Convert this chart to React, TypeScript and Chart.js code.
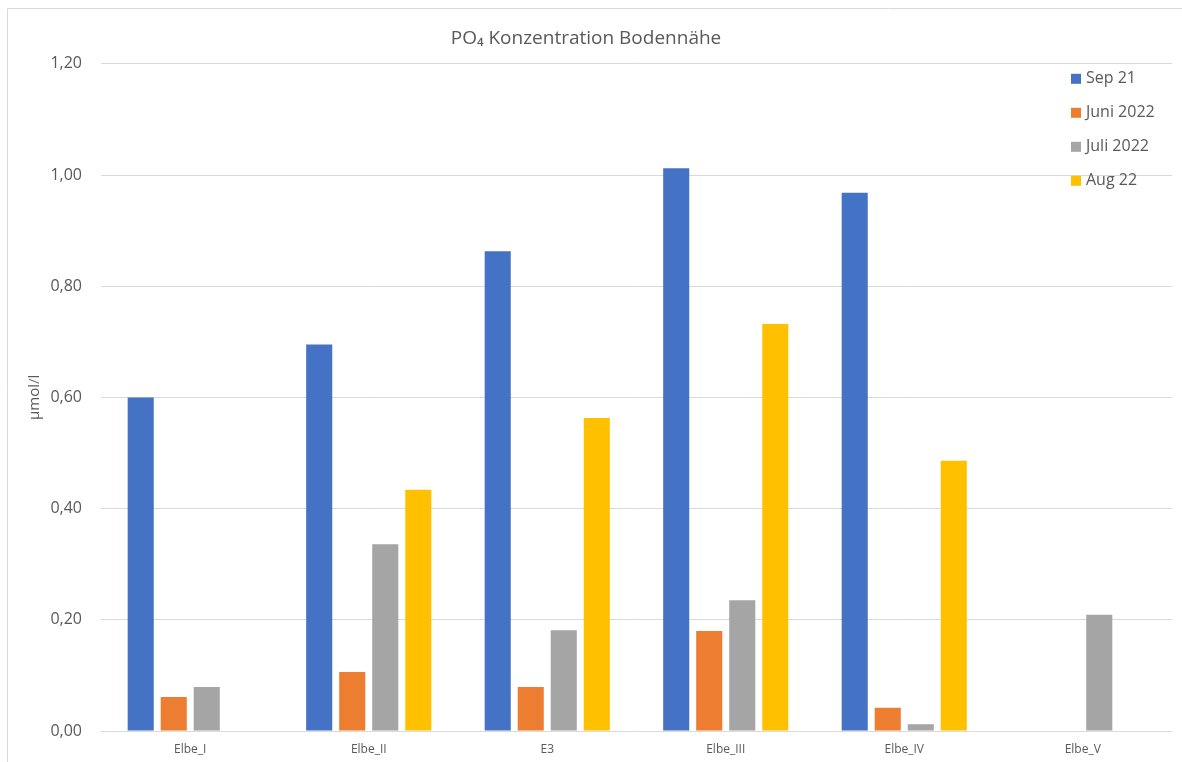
import { useEffect, useRef } from "react";
import { Chart, registerables } from "chart.js";

Chart.register(...registerables);

const categories = ["Elbe_I", "Elbe_II", "E3", "Elbe_III", "Elbe_IV", "Elbe_V"];
const seriesLabels = ["Sep 21", "Juni 2022", "Juli 2022", "Aug 22"];
const sep21 = [0.6, 0.695, 0.863, 1.012, 0.968, null];
const juni2022 = [0.061, 0.106, 0.079, 0.18, 0.042, null];
const juli2022 = [0.079, 0.336, 0.181, 0.235, 0.012, 0.209];
const aug22 = [null, 0.434, 0.563, 0.732, 0.486, null];
const seriesColors = ["#4472C4", "#ED7D31", "#A5A5A5", "#FFC000"];
const yMin = 0;
const yMax = 1.2;
const yStep = 0.2;
const titleText = "PO₄ Konzentration Bodennähe";
const yTitle = "µmol/l";

const FONT = "'Open Sans', 'DejaVu Sans', sans-serif";
const TEXT = "#595959";
const GRID = "#D9D9D9";

const framePlugin = {
  id: "frame",
  beforeDraw(chart: any) {
    const { ctx, width, height } = chart;
    ctx.save();
    ctx.fillStyle = "#ffffff";
    ctx.fillRect(0, 0, width, height);
    ctx.strokeStyle = GRID;
    ctx.lineWidth = 1;
    ctx.beginPath();
    ctx.moveTo(7.5, height);
    ctx.lineTo(7.5, 8.5);
    ctx.lineTo(width, 8.5);
    ctx.stroke();
    ctx.restore();
  },
};

const insideLegend = {
  id: "insideLegend",
  afterDraw(chart: any) {
    const { ctx, chartArea } = chart;
    ctx.save();
    ctx.font = `16px ${FONT}`;
    ctx.textBaseline = "middle";
    ctx.textAlign = "left";
    chart.data.datasets.forEach((ds: any, i: number) => {
      const y = chartArea.top + 15 + i * 34;
      const x = chartArea.right - 101;
      ctx.fillStyle = ds.backgroundColor;
      ctx.fillRect(x, y - 5, 10, 10);
      ctx.fillStyle = TEXT;
      ctx.fillText(ds.label, x + 15, y);
    });
    ctx.restore();
  },
};

export default function App() {
  const ref = useRef<HTMLCanvasElement>(null);

  useEffect(() => {
    document.body.style.margin = "0";
    const series = [sep21, juni2022, juli2022, aug22];
    const chart = new Chart(ref.current!, {
      type: "bar",
      data: {
        labels: categories,
        datasets: series.map((d, i) => ({
          label: seriesLabels[i],
          data: d,
          backgroundColor: seriesColors[i],
          borderWidth: 0,
          categoryPercentage: 0.74,
          barPercentage: 0.79,
        })),
      },
      options: {
        responsive: false,
        animation: false,
        devicePixelRatio: 1,
        layout: { padding: { left: 0, right: 10, top: 0, bottom: 0 } },
        plugins: {
          legend: { display: false },
          tooltip: { enabled: false },
          title: {
            display: true,
            text: titleText,
            color: TEXT,
            font: { family: FONT, size: 19, weight: "normal" },
            padding: { top: 27, bottom: 14 },
          },
        },
        scales: {
          x: {
            grid: { display: false, drawTicks: false },
            border: { display: false },
            ticks: {
              color: TEXT,
              font: { family: FONT, size: 12 },
              padding: 11,
            },
            afterFit: (scale: any) => {
              scale.height = 31;
            },
          },
          y: {
            min: yMin,
            max: yMax,
            grid: { color: GRID, drawTicks: false, lineWidth: 1 },
            border: { display: false },
            ticks: {
              stepSize: yStep,
              color: TEXT,
              font: { family: FONT, size: 16 },
              padding: 19,
              callback: (v: any) => Number(v).toFixed(2).replace(".", ","),
            },
            title: {
              display: true,
              text: yTitle,
              color: TEXT,
              font: { family: FONT, size: 15 },
              padding: { top: 26, bottom: 0 },
            },
            afterFit: (scale: any) => {
              scale.width = 101;
            },
          },
        },
      },
      plugins: [framePlugin, insideLegend],
    });
    return () => chart.destroy();
  }, []);

  return (
    <div style={{ width: 1182, height: 762 }}>
      <canvas ref={ref} width={1182} height={762} style={{ display: "block" }} />
    </div>
  );
}
